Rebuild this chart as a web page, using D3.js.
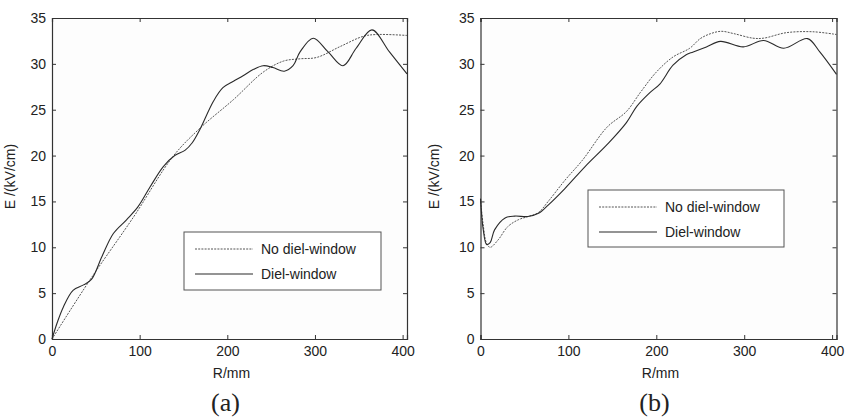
<!DOCTYPE html>
<html>
<head>
<meta charset="utf-8">
<script src="https://cdn.jsdelivr.net/npm/d3@7"></script>
<style>
  body { margin: 0; background: #fff; }
  svg { display: block; }
  text { font-family: "Liberation Sans", Arial, sans-serif; fill: #222; }
</style>
</head>
<body>
<svg id="chart" width="845" height="417"></svg>
<script>
// ---------- DATA ----------
const xTicks = [0, 100, 200, 300, 400];
const yTicks = [0, 5, 10, 15, 20, 25, 30, 35];
const seriesNames = ["No diel-window", "Diel-window"];

// Panel (a)
const aNoR = [0, 43, 93, 138, 169, 207, 241, 264, 283, 302, 329, 355, 370, 405];
const aNoE = [0, 6.4, 13.3, 19.9, 23.0, 26.1, 29.1, 30.3, 30.55, 30.7, 31.9, 33.0, 33.2, 33.1];
const aDwR = [0, 6, 13, 24, 36, 45, 57, 70, 85, 98, 112, 127, 140, 152, 160, 169, 184, 195, 207, 218, 230, 241, 252, 265, 275, 283, 298, 315, 332, 347, 365, 385, 405];
const aDwE = [0, 1.8, 3.5, 5.3, 5.9, 6.5, 9.0, 11.5, 13.0, 14.4, 16.6, 18.8, 20.0, 20.6, 21.4, 22.9, 25.9, 27.4, 28.1, 28.7, 29.4, 29.8, 29.6, 29.2, 29.8, 31.3, 32.8, 31.3, 29.8, 31.7, 33.7, 31.3, 28.9];

// Panel (b)
const bNoR = [0, 3, 7, 11, 20, 31, 43, 54, 66, 77, 96, 116, 144, 166, 182, 200, 219, 238, 250, 262, 274, 288, 310, 322, 348, 378, 405];
const bNoE = [15.3, 12.5, 10.4, 10.0, 10.8, 12.25, 13.0, 13.35, 13.8, 15.0, 17.3, 19.5, 23.1, 24.8, 26.9, 29.1, 30.75, 31.7, 32.75, 33.3, 33.55, 33.3, 32.8, 32.8, 33.4, 33.5, 33.2];
const bDwR = [0, 3, 7, 11, 16, 28, 39, 54, 66, 77, 96, 119, 145, 166, 178, 193, 204, 219, 234, 242, 257, 273, 299, 322, 345, 372, 386, 405];
const bDwE = [15.3, 12.0, 10.3, 10.5, 11.9, 13.2, 13.4, 13.35, 13.7, 14.6, 16.4, 18.8, 21.3, 23.6, 25.4, 26.9, 27.8, 29.85, 31.0, 31.3, 31.85, 32.45, 31.85, 32.55, 31.7, 32.75, 31.3, 28.85];

// ---------- LAYOUT ----------
const svg = d3.select("#chart");
const panels = [
  { left: 52, right: 407, top: 18, bottom: 339, label: "(a)",
    series: [[aNoR, aNoE], [aDwR, aDwE]],
    legend: { x: 184, y: 232, w: 197, h: 58 }, ylabX: 12 },
  { left: 480.5, right: 836.5, top: 18, bottom: 339, label: "(b)",
    series: [[bNoR, bNoE], [bDwR, bDwE]],
    legend: { x: 588, y: 190, w: 196, h: 57 }, ylabX: 436 }
];
const styles = [
  { stroke: "#555", dash: "2,1.2", width: 1 },
  { stroke: "#2a2a2a", dash: null, width: 1.1 }
];
const FS = "14px";

panels.forEach(p => {
  const x = d3.scaleLinear().domain([0, 405]).range([p.left, p.right]);
  const y = d3.scaleLinear().domain([0, 35]).range([p.bottom, p.top]);
  const g = svg.append("g");

  g.append("rect").attr("x", p.left).attr("y", p.top)
    .attr("width", p.right - p.left).attr("height", p.bottom - p.top)
    .attr("fill", "#fdfdfd");

  // axes
  const axB = g.append("g").attr("transform", `translate(0,${p.bottom})`)
    .call(d3.axisBottom(x).tickValues(xTicks).tickSize(-4).tickPadding(7));
  const axL = g.append("g").attr("transform", `translate(${p.left},0)`)
    .call(d3.axisLeft(y).tickValues(yTicks).tickSize(-4).tickPadding(6));
  const axT = g.append("g").attr("transform", `translate(0,${p.top})`)
    .call(d3.axisTop(x).tickValues(xTicks).tickSize(-4).tickFormat(""));
  const axR = g.append("g").attr("transform", `translate(${p.right},0)`)
    .call(d3.axisRight(y).tickValues(yTicks).tickSize(-4).tickFormat(""));
  [axB, axL, axT, axR].forEach(a => {
    a.select(".domain").attr("stroke", "#333").attr("stroke-width", 1.2);
    a.selectAll(".tick line").attr("stroke", "#333");
    a.selectAll("text").style("font-size", FS)
      .style("font-family", '"Liberation Sans", Arial, sans-serif').attr("fill", "#222");
  });

  // lines
  const line = d3.line().curve(d3.curveCatmullRom.alpha(0.5))
    .x(d => x(d[0])).y(d => y(d[1]));
  p.series.forEach((s, i) => {
    const pts = s[0].map((r, k) => [r, s[1][k]]);
    g.append("path").datum(pts).attr("d", line)
      .attr("fill", "none").attr("stroke", styles[i].stroke)
      .attr("stroke-width", styles[i].width)
      .attr("stroke-dasharray", styles[i].dash);
  });

  // legend
  const L = p.legend;
  g.append("rect").attr("x", L.x).attr("y", L.y).attr("width", L.w).attr("height", L.h)
    .attr("fill", "#fff").attr("stroke", "#555").attr("stroke-width", 1);
  seriesNames.forEach((n, i) => {
    const cy = L.y + 17 + i * 25;
    g.append("line").attr("x1", L.x + 11).attr("x2", L.x + 69)
      .attr("y1", cy).attr("y2", cy)
      .attr("stroke", styles[i].stroke).attr("stroke-width", styles[i].width)
      .attr("stroke-dasharray", styles[i].dash);
    g.append("text").attr("x", L.x + 77).attr("y", cy + 5)
      .style("font-size", FS).text(n);
  });

  // axis labels
  g.append("text").attr("x", (p.left + p.right) / 2 + 2).attr("y", 378)
    .attr("text-anchor", "middle").style("font-size", FS).text("R/mm");
  g.append("text").attr("transform", `translate(${p.ylabX + 3},${(p.top + p.bottom) / 2 - 2}) rotate(-90)`)
    .attr("text-anchor", "middle").style("font-size", FS).text("E /(kV/cm)");
  g.append("text").attr("x", (p.left + p.right) / 2 - 4).attr("y", 411)
    .attr("text-anchor", "middle")
    .style("font-family", '"Liberation Serif", "Times New Roman", serif')
    .style("font-size", "26px").text(p.label);
});
</script>
</body>
</html>
